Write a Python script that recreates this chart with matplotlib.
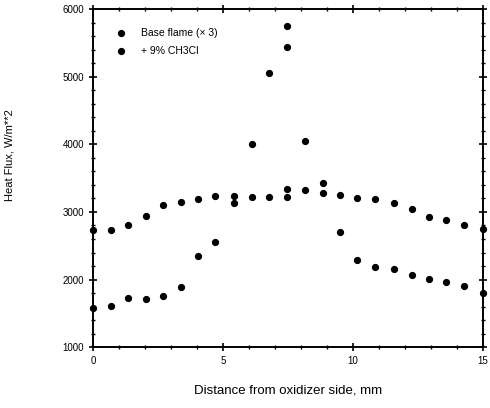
import numpy as np
import matplotlib.pyplot as plt
from matplotlib.ticker import MultipleLocator

plt.rcParams['font.family'] = 'Liberation Sans'

# base flame (x 3)
base_x = [0, 0.68, 1.36, 2.03, 2.71, 3.38, 4.03, 4.71, 5.42, 6.10, 6.78, 7.46, 7.46,
          8.17, 8.84, 9.51, 10.17, 10.85, 11.58, 12.28, 12.94, 13.6, 14.28, 15]
base_y = [2734, 2734, 2803, 2945, 3108, 3152, 3187, 3236, 3236, 3226, 3226, 3226, 3335,
          3325, 3285, 3246, 3207, 3187, 3128, 3044, 2926, 2886, 2803, 2744]

# + 9% CH3Cl
ch3cl_x = [0, 0.68, 1.36, 2.03, 2.71, 3.38, 4.03, 4.71, 5.42, 6.10, 6.78, 7.46, 7.46,
           8.17, 8.84, 9.51, 10.17, 10.85, 11.58, 12.28, 12.94, 13.6, 14.28, 15]
ch3cl_y = [1576, 1615, 1733, 1714, 1763, 1887, 2345, 2561, 3137, 4000, 5059, 5434, 5749,
           4054, 3424, 2709, 2290, 2187, 2153, 2069, 2005, 1965, 1906, 1798]

fig = plt.figure(figsize=(4.9, 4.08), dpi=100)
ax = fig.add_axes([0.190, 0.149, 0.795, 0.829])

ax.plot(base_x, base_y, 'o', color='black', markersize=4.2, clip_on=False,
        label='Base flame (× 3)')
ax.plot(ch3cl_x, ch3cl_y, 'o', color='black', markersize=4.2, clip_on=False,
        label='+ 9% CH3Cl')

ax.set_xlim(0, 15)
ax.set_ylim(1000, 6000)
ax.xaxis.set_major_locator(MultipleLocator(5))
ax.xaxis.set_minor_locator(MultipleLocator(1))
ax.yaxis.set_major_locator(MultipleLocator(1000))
ax.yaxis.set_minor_locator(MultipleLocator(200))
ax.tick_params(which='both', direction='inout', top=True, right=True, labelsize=7)
ax.tick_params(which='major', length=6, width=1.2)
ax.tick_params(which='minor', length=3, width=1)
for s in ax.spines.values():
    s.set_linewidth(1.4)

ax.set_xlabel('Distance from oxidizer side, mm', fontsize=9.5, labelpad=13)
fig.text(10 / 490, 1 - 155 / 408, 'Heat Flux, W/m**2', rotation=90,
         ha='center', va='center', fontsize=8)

ax.legend(loc='upper left', frameon=False, fontsize=7.5, handletextpad=0.9,
          borderaxespad=0.0, labelspacing=0.75, bbox_to_anchor=(0.035, 0.955))

fig.savefig('out.png', dpi=100)
